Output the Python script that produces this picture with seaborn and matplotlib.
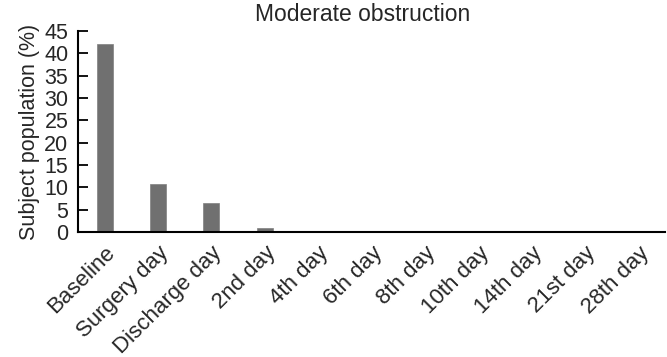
import matplotlib
matplotlib.use("Agg")
import matplotlib.pyplot as plt
import numpy as np
import pandas as pd
import seaborn as sns

days = ["Baseline", "Surgery day", "Discharge day", "2nd day", "4th day", "6th day",
        "8th day", "10th day", "14th day", "21st day", "28th day"]
population = [42.1, 10.7, 6.6, 1.0, 0, 0, 0, 0, 0, 0, 0]

sns.set_style("ticks")
plt.rcParams["font.family"] = ["Liberation Sans", "DejaVu Sans"]

df = pd.DataFrame({"day": days, "pop": population})

fig, ax = plt.subplots(figsize=(6.67, 3.57), dpi=100)
fig.subplots_adjust(left=0.117, right=0.997, top=0.913, bottom=0.35)

sns.barplot(data=df, x="day", y="pop", color="#707070", saturation=1,
            width=0.3, edgecolor="#808080", linewidth=0.5, ax=ax)

ax.set_xlim(-0.5, 10.5)
ax.set_ylim(0, 45)
ax.set_yticks(np.arange(0, 46, 5))
ax.set_xlabel("")
ax.set_ylabel("Subject population (%)", fontsize=15.5, labelpad=3)
ax.set_title("Moderate obstruction", fontsize=16.5, pad=7, x=0.485)
ax.tick_params(axis="y", which="major", left=True, length=7, width=1.3,
               labelsize=15.5, pad=7, direction="in", color="black")
ax.tick_params(axis="x", bottom=False, labelsize=16, pad=4)
plt.setp(ax.get_xticklabels(), rotation=45, ha="right", rotation_mode="anchor")
for s in ["top", "right"]:
    ax.spines[s].set_visible(False)
for s in ["left", "bottom"]:
    ax.spines[s].set_color("black")
    ax.spines[s].set_linewidth(1.5)

fig.savefig("out.png", dpi=100)
